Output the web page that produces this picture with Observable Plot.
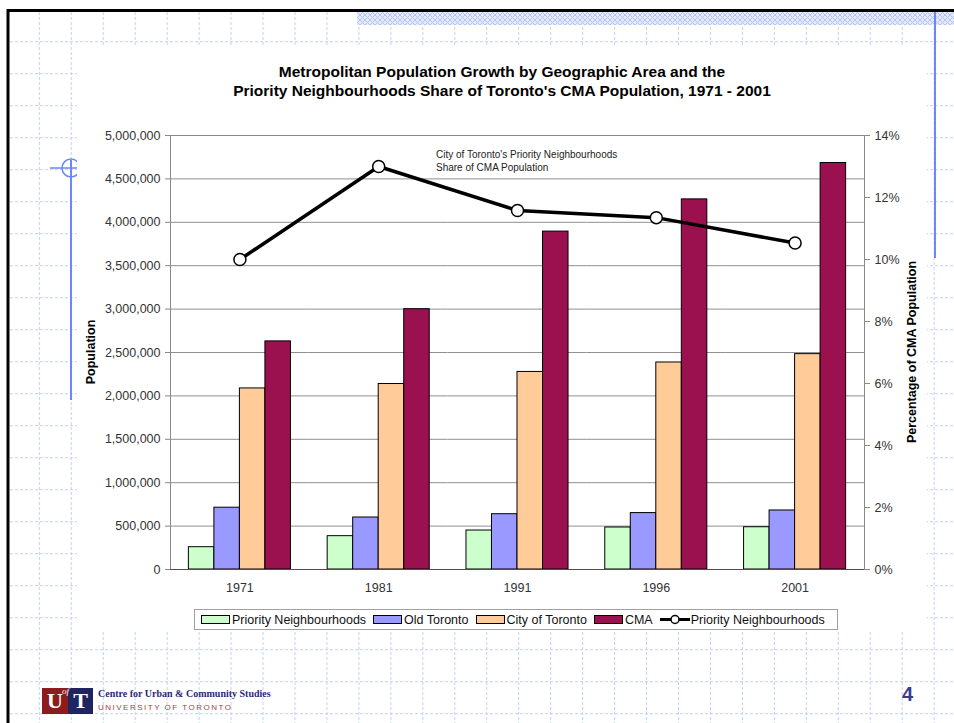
<!DOCTYPE html>
<html><head><meta charset="utf-8">
<script src="https://cdn.jsdelivr.net/npm/d3@7"></script>
<script src="https://cdn.jsdelivr.net/npm/@observablehq/plot@0.6"></script>
<style>
body{margin:0;background:#fff;font-family:"Liberation Sans",Arial,sans-serif;}
#slide{position:relative;width:954px;height:723px;overflow:hidden;}
.abs{position:absolute;}
#title{left:77px;width:850px;top:62px;text-align:center;font-weight:bold;font-size:15.5px;line-height:19px;color:#000;}
#note{left:436px;top:148px;font-size:10px;line-height:13px;color:#222;}
.ytitle{font-weight:bold;font-size:12.5px;white-space:nowrap;transform:translate(-50%,-50%) rotate(-90deg);color:#000;}
#legend{left:194px;top:609px;width:636px;height:19px;border:1px solid #a0a0a0;background:#fff;display:flex;align-items:center;padding-left:6px;box-sizing:content-box;font-size:12.5px;color:#111;}
.sw{width:27px;height:7px;border:1px solid #000;margin-right:2px;}
.item{display:flex;align-items:center;margin-right:7px;white-space:nowrap;}
#logo{left:42px;top:688px;width:51px;height:26px;display:flex;}
</style></head><body>
<div id="slide"></div>
<script>
// ---- data ----
const years = ["1971", "1981", "1991", "1996", "2001"];
const series = ["Priority Neighbourhoods", "Old Toronto", "City of Toronto", "CMA"];
const priorityPop = [257000, 384000, 449000, 484000, 487000];
const oldTorontoPop = [712000, 599000, 637000, 650000, 680000];
const cityPop = [2086000, 2137000, 2276000, 2385000, 2481000];
const cmaPop = [2628000, 2999000, 3893000, 4264000, 4683000];
const prioritySharePct = [10.0, 13.0, 11.58, 11.35, 10.53];
const popTicks = [0, 500000, 1000000, 1500000, 2000000, 2500000, 3000000, 3500000, 4000000, 4500000, 5000000];
const pctTicks = [0, 2, 4, 6, 8, 10, 12, 14];
const seriesColors = ["#ccffcc", "#9999ff", "#ffcc99", "#9b1150"];
const lineLegend = "Priority Neighbourhoods";
const titleLines = ["Metropolitan Population Growth by Geographic Area and the",
  "Priority Neighbourhoods Share of Toronto's CMA Population, 1971 - 2001"];
const noteLines = ["City of Toronto's Priority Neighbourhoods", "Share of CMA Population"];

const seriesValues = [priorityPop, oldTorontoPop, cityPop, cmaPop];
const barData = years.flatMap((yr, i) => series.map((s, j) => ({year: yr, series: s, value: seriesValues[j][i]})));
const shareData = years.map((yr, i) => ({year: yr, pct: prioritySharePct[i]}));

const slide = document.getElementById("slide");
const FONT = "'Liberation Sans', Arial, sans-serif";

// ---- slide background (graph paper) ----
const bg = d3.create("svg").attr("width", 954).attr("height", 723).attr("class", "abs").style("left", "0px").style("top", "0px");
const defs = bg.append("defs");
const pat = defs.append("pattern").attr("id", "hatch").attr("width", 5).attr("height", 5).attr("patternUnits", "userSpaceOnUse");
pat.append("rect").attr("width", 5).attr("height", 5).attr("fill", "#e4eaff");
pat.append("path").attr("d", "M0,0L5,5M5,0L0,5").attr("stroke", "#b4c2f4").attr("stroke-width", 1);
bg.append("rect").attr("width", 954).attr("height", 723).attr("fill", "#fff");
const gx = d3.range(0, 29).map(k => 39.3 + 31.96 * k);
const gy = d3.range(0, 22).map(k => 41.7 + 32 * k);
bg.append("g").selectAll("line").data(gx).join("line")
  .attr("x1", d => d).attr("x2", d => d).attr("y1", 12).attr("y2", 723)
  .attr("stroke", "#c3cffa").attr("stroke-dasharray", "3,2");
bg.append("g").selectAll("line").data(gy).join("line")
  .attr("y1", d => d).attr("y2", d => d).attr("x1", 10).attr("x2", 954)
  .attr("stroke", "#c3cffa").attr("stroke-dasharray", "3,2");
bg.append("rect").attr("x", 357).attr("y", 12).attr("width", 597).attr("height", 13).attr("fill", "url(#hatch)");
// left crosshair decoration
bg.append("circle").attr("cx", 71).attr("cy", 168).attr("r", 9).attr("fill", "none").attr("stroke", "#6b86ff").attr("stroke-width", 1.5);
bg.append("line").attr("x1", 50).attr("x2", 82).attr("y1", 168).attr("y2", 168).attr("stroke", "#6b86ff").attr("stroke-width", 1.5);
// white chart area
bg.append("rect").attr("x", 77).attr("y", 47).attr("width", 850).attr("height", 583).attr("fill", "#fff");
bg.append("line").attr("x1", 71).attr("x2", 71).attr("y1", 160).attr("y2", 400).attr("stroke", "#6b86ff").attr("stroke-width", 2);
bg.append("line").attr("x1", 935).attr("x2", 935).attr("y1", 12).attr("y2", 258).attr("stroke", "#6b86ff").attr("stroke-width", 2);
// slide border
bg.append("line").attr("x1", 7).attr("x2", 954).attr("y1", 10.5).attr("y2", 10.5).attr("stroke", "#000").attr("stroke-width", 3);
bg.append("line").attr("x1", 8).attr("x2", 8).attr("y1", 9).attr("y2", 723).attr("stroke", "#000").attr("stroke-width", 3);
slide.appendChild(bg.node());

// ---- chart layers ----
const W = 954, H = 600;
const margins = {marginLeft: 170, marginRight: 90, marginTop: 135, marginBottom: 31};

const bars = Plot.plot({
  width: W, height: H, ...margins,
  style: {background: "transparent", fontFamily: FONT, color: "#333", overflow: "visible"},
  fx: {domain: years, padding: 0, round: false, label: null},
  x: {domain: series, paddingInner: 0, paddingOuter: 0.72, round: false, axis: null},
  y: {domain: [0, 5000000], label: null},
  color: {domain: series, range: seriesColors},
  marks: [
    Plot.ruleY(popTicks, {stroke: "#8f8f8f", strokeWidth: 1}),
    Plot.barY(barData, {fx: "year", x: "series", y: "value", fill: "series", stroke: "#000", strokeWidth: 1}),
    Plot.axisY(popTicks, {anchor: "left", tickSize: 5, tickPadding: 5, tickFormat: d3.format(","), stroke: "#888", fontSize: 12.5, label: null}),
    Plot.axisFx({anchor: "bottom", tickSize: 0, tickPadding: 14, fontSize: 12.5, label: null})
  ]
});
bars.classList.add("abs");
bars.style.left = "0px"; bars.style.top = "0px";
slide.appendChild(bars);

const linePlot = Plot.plot({
  width: W, height: H, ...margins,
  style: {background: "transparent", fontFamily: FONT, color: "#333", overflow: "visible"},
  x: {type: "point", domain: years, padding: 0.5, round: false, axis: null},
  y: {domain: [0, 14], label: null},
  marks: [
    Plot.frame({stroke: "#8a8a8a"}),
    Plot.ruleY([0], {stroke: "#5a4848"}),
    Plot.line(shareData, {x: "year", y: "pct", stroke: "#000", strokeWidth: 3.5}),
    Plot.dot(shareData, {x: "year", y: "pct", r: 6, fill: "#fff", stroke: "#000", strokeWidth: 1.5}),
    Plot.axisY(pctTicks, {anchor: "right", tickSize: 5, tickPadding: 5, tickFormat: d => d + "%", stroke: "#888", fontSize: 12.5, label: null})
  ]
});
linePlot.classList.add("abs");
linePlot.style.left = "0px"; linePlot.style.top = "0px";
slide.appendChild(linePlot);

// ---- texts ----
function addDiv(id, cls, html, styles) {
  const d = document.createElement("div");
  if (id) d.id = id;
  d.className = cls;
  d.innerHTML = html;
  Object.assign(d.style, styles || {});
  slide.appendChild(d);
  return d;
}
addDiv("title", "abs", titleLines.join("<br>"));
addDiv("note", "abs", noteLines.join("<br>"));
addDiv(null, "abs ytitle", "Population", {left: "91px", top: "352px"});
addDiv(null, "abs ytitle", "Percentage of CMA Population", {left: "912px", top: "352px"});

// legend
const legend = addDiv("legend", "abs", "");
series.forEach((s, j) => {
  const it = document.createElement("div");
  it.className = "item";
  it.innerHTML = `<div class="sw" style="background:${seriesColors[j]}"></div><span>${s}</span>`;
  legend.appendChild(it);
});
const li = document.createElement("div");
li.className = "item";
li.innerHTML = `<svg width="30" height="11" style="margin-right:1px"><line x1="0" x2="30" y1="5.5" y2="5.5" stroke="#000" stroke-width="3"/><circle cx="15" cy="5.5" r="4" fill="#fff" stroke="#000" stroke-width="1.5"/></svg><span>${lineLegend}</span>`;
legend.appendChild(li);

// footer
addDiv("logo", "abs", `<div style="width:26px;height:26px;background:#8c1c1e;color:#fff;font:bold 22px 'Liberation Serif',serif;line-height:26px;text-align:center;">U</div><div style="width:25px;height:26px;background:#1f2560;color:#fff;font:bold 22px 'Liberation Serif',serif;line-height:26px;text-align:center;position:relative;"><span style="position:absolute;left:-6px;top:-2px;font:italic 9px 'Liberation Serif',serif;">of</span>T</div>`);
addDiv(null, "abs", "Centre for Urban &amp; Community Studies", {left: "98px", top: "688px", font: "bold 10px 'Liberation Serif', serif", color: "#2b2b7a", whiteSpace: "nowrap"});
addDiv(null, "abs", "UNIVERSITY OF TORONTO", {left: "98px", top: "703px", font: "8px 'Liberation Sans', sans-serif", letterSpacing: "1.5px", color: "#a04444", whiteSpace: "nowrap"});
addDiv(null, "abs", "4", {left: "902px", top: "683px", font: "bold 20px 'Liberation Sans', sans-serif", color: "#3b3b8f"});
</script>
</body></html>
